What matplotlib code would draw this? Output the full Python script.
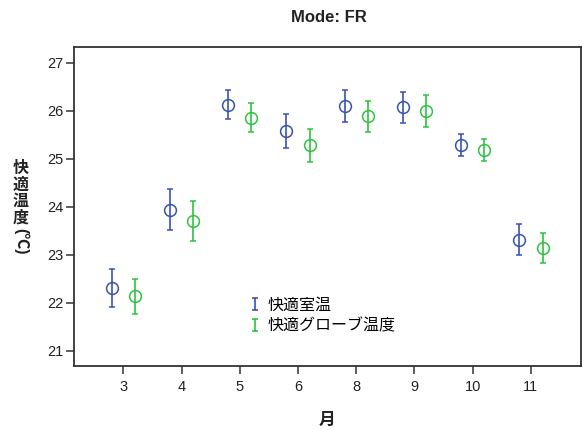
import numpy as np
import matplotlib.pyplot as plt
from matplotlib.path import Path
from matplotlib.lines import Line2D

plt.rcParams['font.family'] = ['Liberation Sans', 'Noto Sans CJK JP', 'DejaVu Sans']

# Daten
months = ['3', '4', '5', '6', '8', '9', '10', '11']
room_mean = [22.31, 23.94, 26.13, 25.57, 26.11, 26.07, 25.29, 23.31]
room_low = [21.92, 23.51, 25.82, 25.22, 25.77, 25.75, 25.05, 22.99]
room_high = [22.70, 24.36, 26.44, 25.93, 26.43, 26.39, 25.51, 23.64]
globe_mean = [22.14, 23.71, 25.86, 25.29, 25.89, 26.00, 25.18, 23.15]
globe_low = [21.77, 23.29, 25.55, 24.93, 25.56, 25.66, 24.95, 22.82]
globe_high = [22.50, 24.13, 26.16, 25.63, 26.20, 26.32, 25.41, 23.46]
y_ticks = [21, 22, 23, 24, 25, 26, 27]

blue = '#3953b0'
green = '#2ec440'

W, H = 583, 430
fig = plt.figure(figsize=(W / 100, H / 100), dpi=100)
ax = fig.add_axes([74 / W, 1 - 366 / H, (581 - 74) / W, (366 - 47) / H])

x = np.arange(len(months))

def draw(offset, mean, low, high, color):
    mean = np.array(mean)
    err = [mean - np.array(low), np.array(high) - mean]
    ax.errorbar(x + offset, mean, yerr=err, fmt='o', color=color, mfc='none',
                mec=color, ms=8.5, mew=1.1, elinewidth=1.2, capsize=2.5,
                capthick=1.2)

draw(-0.2, room_mean, room_low, room_high, blue)
draw(0.2, globe_mean, globe_low, globe_high, green)

ax.set_xlim(-0.846, 7.86)
ax.set_ylim(20.68, 27.33)
ax.set_xticks(x)
ax.set_xticklabels(months)
ax.set_yticks(y_ticks)
ax.tick_params(direction='out', length=6, width=1.1, color='#333333',
               labelsize=10.5, labelcolor='#222222')
ax.tick_params(axis='x', pad=4)
ax.tick_params(axis='y', pad=1.5)
for s in ax.spines.values():
    s.set_linewidth(1.3)
    s.set_color('#333333')

# Legenden-Symbol: senkrechter Strich mit Kappen
ibar = Path([(-0.45, 1), (0.45, 1), (0, 1), (0, -1), (-0.45, -1), (0.45, -1)],
            [Path.MOVETO, Path.LINETO, Path.MOVETO, Path.LINETO, Path.MOVETO, Path.LINETO])
handles = [Line2D([], [], ls='none', marker=ibar, ms=9, mfc='none', mec=blue, mew=1.2),
           Line2D([], [], ls='none', marker=ibar, ms=9, mfc='none', mec=green, mew=1.2)]
ax.legend(handles, ['快適室温', '快適グローブ温度'], loc='upper left',
          bbox_to_anchor=(250 / W, 1 - 298 / H), bbox_transform=fig.transFigure,
          frameon=False, fontsize=11.5, handlelength=0.6, handletextpad=0.52,
          labelspacing=0.33, borderpad=0, borderaxespad=0)

fig.text(329 / W, 1 - 17.5 / H, 'Mode: FR', ha='center', va='center',
         fontsize=12, fontweight='bold', color='#222222')
fig.text(327 / W, 1 - 420 / H, '月', ha='center', va='center',
         fontsize=12, fontweight='bold', color='#222222')
fig.text(21 / W, 1 - 161 / H, '快\n適\n温\n度', ha='center', va='top',
         fontsize=11.5, fontweight='bold', linespacing=1.12, color='#222222')
fig.text(21 / W, 1 - 228 / H, '(℃)', ha='center', va='top', rotation=-90,
         fontsize=11.5, fontweight='bold', color='#222222')

fig.savefig('out.png', dpi=100)
